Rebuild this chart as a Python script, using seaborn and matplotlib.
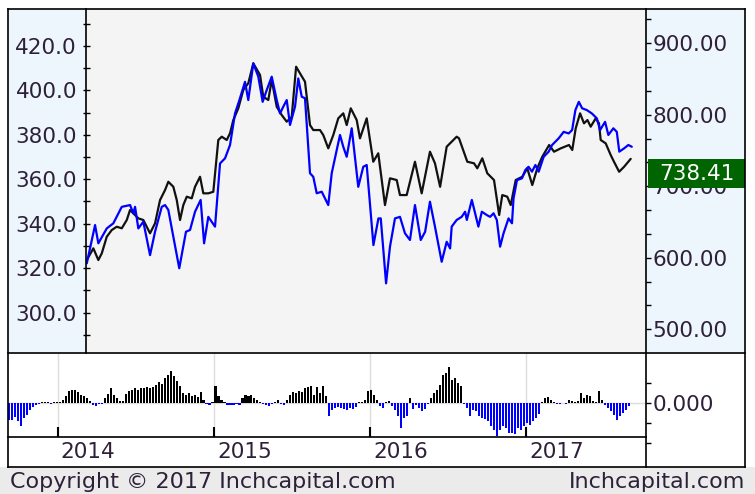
import numpy as np
import seaborn as sns
import matplotlib.pyplot as plt
import matplotlib.transforms as mtransforms
from matplotlib.patches import Rectangle
from matplotlib.ticker import MultipleLocator, FixedLocator, FixedFormatter, FormatStrFormatter

# =========================
#        DATA
# =========================
# weekly close (right axis) - time in decimal years
black_t = [2014.186, 2014.228, 2014.260, 2014.282, 2014.314, 2014.346, 2014.378, 2014.410, 2014.442, 2014.463,
           2014.484, 2014.516, 2014.548, 2014.591, 2014.623, 2014.655, 2014.687, 2014.708, 2014.740, 2014.762,
           2014.783, 2014.804, 2014.826, 2014.858, 2014.879, 2014.911, 2014.932, 2014.964, 2014.996, 2015.028,
           2015.050, 2015.082, 2015.103, 2015.124, 2015.156, 2015.188, 2015.220, 2015.252, 2015.295, 2015.316,
           2015.348, 2015.370, 2015.402, 2015.434, 2015.466, 2015.498, 2015.526, 2015.551, 2015.583, 2015.615,
           2015.636, 2015.679, 2015.700, 2015.732, 2015.764, 2015.796, 2015.828, 2015.850, 2015.876, 2015.914,
           2015.935, 2015.978, 2016.020, 2016.052, 2016.095, 2016.127, 2016.170, 2016.191, 2016.234, 2016.287,
           2016.330, 2016.383, 2016.415, 2016.448, 2016.490, 2016.554, 2016.569, 2016.622, 2016.665, 2016.686,
           2016.718, 2016.750, 2016.793, 2016.826, 2016.846, 2016.878, 2016.900, 2016.932, 2016.974, 2017.006,
           2017.038, 2017.070, 2017.102, 2017.146, 2017.177, 2017.220, 2017.273, 2017.294, 2017.316, 2017.344,
           2017.369, 2017.391, 2017.412, 2017.444, 2017.465, 2017.476, 2017.508, 2017.540, 2017.561, 2017.594,
           2017.626, 2017.668]
black_v = [596.9, 613.3, 596.9, 606.3, 629.5, 638.9, 643.5, 641.3, 652.9, 666.9,
           662.2, 655.2, 652.9, 634.3, 648.3, 680.8, 694.8, 706.4, 699.4, 680.8,
           652.9, 673.8, 685.5, 683.2, 699.4, 713.4, 690.2, 690.2, 692.4, 764.8,
           769.4, 764.8, 774.1, 792.7, 809.1, 834.7, 844.1, 872.0, 855.7, 825.3,
           820.7, 848.7, 811.3, 799.7, 790.4, 797.3, 867.3, 858.0, 846.3, 785.7,
           778.7, 778.7, 771.7, 753.1, 771.7, 795.1, 802.1, 785.7, 809.1, 792.7,
           767.1, 795.1, 734.4, 746.2, 673.8, 711.2, 708.8, 687.8, 687.8, 734.4,
           690.2, 748.4, 732.2, 699.4, 755.4, 769.4, 767.1, 734.4, 732.2, 725.2,
           739.2, 718.2, 708.8, 659.9, 687.8, 685.5, 673.8, 708.8, 713.4, 725.2,
           701.8, 725.2, 741.4, 757.8, 748.4, 753.1, 757.8, 750.8, 781.1, 802.1,
           788.1, 792.7, 783.4, 795.1, 788.1, 764.8, 760.1, 743.8, 734.4, 720.4,
           727.4, 738.41]

# comparison index (left axis)
blue_t = [2014.186, 2014.239, 2014.260, 2014.314, 2014.356, 2014.410, 2014.463, 2014.484, 2014.495, 2014.516,
          2014.548, 2014.591, 2014.623, 2014.666, 2014.687, 2014.708, 2014.740, 2014.778, 2014.821, 2014.847,
          2014.879, 2014.915, 2014.937, 2014.964, 2015.007, 2015.039, 2015.071, 2015.103, 2015.135, 2015.163,
          2015.199, 2015.220, 2015.252, 2015.284, 2015.312, 2015.338, 2015.370, 2015.402, 2015.423, 2015.444,
          2015.466, 2015.487, 2015.519, 2015.540, 2015.562, 2015.583, 2015.615, 2015.636, 2015.658, 2015.690,
          2015.732, 2015.754, 2015.786, 2015.807, 2015.828, 2015.850, 2015.882, 2015.924, 2015.956, 2015.978,
          2016.021, 2016.053, 2016.068, 2016.102, 2016.127, 2016.159, 2016.191, 2016.223, 2016.255, 2016.287,
          2016.324, 2016.352, 2016.383, 2016.415, 2016.458, 2016.490, 2016.512, 2016.522, 2016.554, 2016.586,
          2016.608, 2016.619, 2016.651, 2016.693, 2016.715, 2016.747, 2016.768, 2016.790, 2016.811, 2016.832,
          2016.854, 2016.886, 2016.908, 2016.918, 2016.940, 2016.972, 2016.993, 2017.014, 2017.036, 2017.058,
          2017.079, 2017.111, 2017.143, 2017.165, 2017.186, 2017.207, 2017.239, 2017.271, 2017.293, 2017.314,
          2017.336, 2017.357, 2017.387, 2017.419, 2017.451, 2017.472, 2017.504, 2017.525, 2017.557, 2017.579,
          2017.595, 2017.626, 2017.653, 2017.675]
blue_v = [322.2, 339.4, 331.2, 337.9, 340.2, 347.6, 348.4, 344.7, 347.6, 337.9,
          340.9, 325.9, 336.4, 347.6, 348.4, 346.2, 334.2, 320.0, 336.4, 337.2,
          345.4, 350.7, 331.2, 343.1, 338.7, 367.1, 369.4, 375.4, 389.6, 395.6,
          403.8, 395.6, 412.1, 406.1, 394.8, 400.1, 406.1, 395.6, 389.6, 392.6,
          395.6, 384.4, 392.6, 405.3, 397.1, 396.4, 362.7, 361.1, 353.7, 354.4,
          348.4, 362.7, 373.1, 379.9, 374.6, 370.1, 382.9, 356.6, 365.6, 366.4,
          330.4, 342.4, 342.4, 313.2, 329.7, 342.4, 343.1, 335.7, 332.7, 348.4,
          332.7, 336.4, 349.9, 338.7, 322.9, 331.9, 328.9, 338.7, 341.7, 343.1,
          345.4, 341.7, 350.7, 338.7, 345.4, 343.9, 343.1, 344.7, 341.7, 329.7,
          335.7, 342.4, 340.2, 351.4, 359.6, 360.4, 364.1, 365.6, 363.4, 366.4,
          363.4, 370.1, 372.4, 375.4, 376.9, 378.4, 381.3, 380.6, 382.1, 391.1,
          394.8, 391.9, 391.1, 389.6, 387.4, 382.1, 385.8, 379.9, 382.9, 381.3,
          372.4, 373.9, 375.4, 374.6]

# weekly oscillator, first week starts at osc_start
osc_start = 2013.688
osc_vals = [-0.17, -0.17, -0.14, -0.18, -0.23, -0.15, -0.12, -0.07, -0.04, -0.02,
            -0.01, 0.01, 0.01, 0.01, -0.01, 0.01, 0.01, 0.01,
            0.03, 0.07, 0.12, 0.13, 0.13, 0.11, 0.08, 0.07, 0.05, 0.02,
            -0.02, -0.03, -0.01, -0.01, 0.05, 0.09, 0.15, 0.08, 0.05, 0.02, 0.02,
            0.09, 0.12, 0.13, 0.15, 0.13, 0.15, 0.15, 0.16, 0.15, 0.16,
            0.18, 0.21, 0.19, 0.25, 0.28, 0.32, 0.27, 0.22, 0.17, 0.10,
            0.08, 0.10, 0.07, 0.08, 0.06, 0.11, 0.03, -0.01, -0.02, 0.01,
            0.17, 0.07, 0.03, 0.01, -0.02, -0.02, -0.02, -0.01, -0.02, 0.05,
            0.08, 0.07, 0.08, 0.05, 0.03, 0.01, -0.01, -0.02, -0.03, -0.01,
            0.01, 0.03, -0.01, -0.02,
            0.03, 0.08, 0.11, 0.10, 0.12, 0.11, 0.15, 0.16, 0.17, 0.08,
            0.16, 0.10, 0.17, 0.07, -0.13, -0.07, -0.05, -0.04, -0.05, -0.06,
            -0.07, -0.05, -0.06, -0.04, 0.01, 0.01, 0.03, 0.12, 0.13, 0.08,
            0.03, -0.03, -0.05, 0.01, 0.02,
            -0.03, -0.07, -0.13, -0.25, -0.15, -0.13, 0.05, -0.06, -0.02, -0.05,
            -0.08, -0.06, -0.01, 0.05, 0.10, 0.13, 0.18, 0.28, 0.30, 0.36,
            0.23, 0.25, 0.20, 0.17, -0.01, -0.05, -0.13, -0.07, -0.08, -0.13,
            -0.15, -0.16, -0.18, -0.23, -0.27, -0.33, -0.27, -0.23, -0.25, -0.30,
            -0.30, -0.31, -0.25, -0.27, -0.23, -0.20, -0.22, -0.18, -0.15, -0.11,
            0.01, 0.05, 0.06, 0.03, 0.01, -0.005, -0.005, 0.005, -0.005, 0.03,
            0.02, 0.01, 0.02, 0.10, 0.05, 0.08, 0.07, 0.02, 0.01, 0.12,
            0.03, -0.02, -0.05, -0.08, -0.12, -0.17, -0.13, -0.10, -0.07, -0.03]

years = [2014, 2015, 2016, 2017]
last_close = 738.41

# time span shown by each panel
t_low_left, t_up_left, t_right = 2013.682, 2014.181, 2017.766

# =========================
#        LAYOUT
# =========================
W, H = 755, 494


def box(x0, y0, x1, y1):
    # pixel box (top-left origin) -> figure fraction
    return [x0 / W, 1 - y1 / H, (x1 - x0) / W, (y1 - y0) / H]


sns.set_theme(style="white")
plt.rcParams["font.family"] = ["DejaVu Sans"]
TXT = "#2e2038"
FS = 15.5
PT = 0.72  # points per pixel at dpi 100

fig = plt.figure(figsize=(W / 100, H / 100), dpi=100)
fig.patch.set_facecolor("white")

# background fills
bg = fig.add_axes([0, 0, 1, 1], zorder=0)
bg.set_xlim(0, W)
bg.set_ylim(H, 0)
bg.axis("off")
bg.add_patch(Rectangle((8, 9.5), 78, 343.5, fc="#eef6fd", ec="none"))
bg.add_patch(Rectangle((646, 9.5), 99, 343.5, fc="#eef6fd", ec="none"))
bg.add_patch(Rectangle((0, 467), W, H - 467, fc="#ebebeb", ec="none"))

# ---- upper panel: price (right) and index (left) ----
ax_r = fig.add_axes(box(86, 9.5, 646, 353), zorder=2)
ax_r.set_facecolor("#f4f4f4")
ax_l = ax_r.twinx()
ax_l.set_zorder(2.5)
ax_l.patch.set_visible(False)

sns.lineplot(x=black_t, y=black_v, ax=ax_r, color="#111111", linewidth=1.6)
sns.lineplot(x=blue_t, y=blue_v, ax=ax_l, color="#0000ff", linewidth=1.6)

ax_r.set_xlim(t_up_left, t_right)
ax_r.set_ylim(466.9, 947.3)
ax_l.set_xlim(t_up_left, t_right)
ax_l.set_ylim(281.9, 436.3)

# price axis on the right
ax_r.yaxis.tick_right()
ax_r.yaxis.set_label_position("right")
ax_r.yaxis.set_major_locator(MultipleLocator(100))
ax_r.yaxis.set_minor_locator(MultipleLocator(100 / 3))
ax_r.yaxis.set_major_formatter(FormatStrFormatter("%.2f"))
ax_r.tick_params(axis="y", which="both", left=False, labelleft=False, right=True, labelright=True,
                 direction="out", length=5 * PT, width=1, color="black",
                 labelsize=FS, labelcolor=TXT, pad=1)

# index axis on the left
ax_l.yaxis.tick_left()
ax_l.yaxis.set_label_position("left")
ax_l.yaxis.set_major_locator(MultipleLocator(20))
ax_l.yaxis.set_minor_locator(MultipleLocator(10))
ax_l.yaxis.set_major_formatter(FormatStrFormatter("%.1f"))
ax_l.tick_params(axis="y", which="both", right=False, labelright=False, left=True, labelleft=True,
                 direction="inout", length=7 * PT, width=1, color="black",
                 labelsize=FS, labelcolor=TXT, pad=4)

for a in (ax_r, ax_l):
    a.set_xticks([])
    a.set_xlabel("")
    a.set_ylabel("")
    for s in a.spines.values():
        s.set_visible(False)

# last close tag
tag_tr = mtransforms.blended_transform_factory(ax_r.transAxes, ax_r.transData)
ax_r.add_patch(Rectangle((1.0036, last_close - 41), 0.1732, 41, transform=tag_tr,
                         fc="#006400", ec="none", clip_on=False, zorder=5))
ax_r.text(1.0902, last_close - 20.5, f"{last_close:.2f}", transform=tag_tr, color="white",
          fontsize=FS, ha="center", va="center", zorder=6, clip_on=False)

# ---- lower panel: oscillator ----
osc_t = osc_start + np.arange(len(osc_vals)) * 7 / 365.25
osc = np.array(osc_vals)
sign = np.where(osc >= 0, "up", "down")

ax_low = fig.add_axes(box(8, 353, 646, 467), zorder=2)
ax_low.set_facecolor("white")
ax_low.axhline(0, color="#dcdcdc", lw=1, zorder=0)
for yr in years:
    ax_low.axvline(yr, color="#dcdcdc", lw=1, zorder=0)
sns.barplot(x=osc_t, y=osc, hue=sign, palette={"up": "black", "down": "#0000ff"},
            native_scale=True, width=0.7, dodge=False, legend=False, errorbar=None,
            saturation=1, linewidth=0, ax=ax_low)
ax_low.set_xlim(t_low_left, t_right)
ax_low.set_ylim(-0.64, 0.50)
ax_low.yaxis.tick_right()
ax_low.yaxis.set_major_locator(FixedLocator([-0.4, -0.2, 0.0, 0.2]))
ax_low.yaxis.set_major_formatter(FixedFormatter(["", "", "0.000", ""]))
ax_low.tick_params(axis="y", direction="out", length=5 * PT, width=1, color="black",
                   labelsize=FS, labelcolor=TXT, pad=1)
ax_low.tick_params(axis="x", bottom=False, labelbottom=False)
ax_low.set_xlabel("")
ax_low.set_ylabel("")
for s in ax_low.spines.values():
    s.set_visible(False)

# date strip under the oscillator
strip = fig.add_axes(box(8, 437, 646, 467), zorder=3)
strip.set_facecolor("white")
strip.set_xlim(t_low_left, t_right)
strip.set_ylim(0, 1)
strip.set_xticks(years)
strip.set_yticks([])
strip.tick_params(axis="x", top=True, bottom=False, labelbottom=False, direction="out",
                  length=10 * PT, width=1.5, color="black")
for s in strip.spines.values():
    s.set_visible(False)
lab_tr = mtransforms.offset_copy(strip.get_xaxis_transform(), fig=fig, x=3, y=0, units="dots")
for yr in years:
    strip.text(yr, 0.29, str(yr), transform=lab_tr, ha="left", va="baseline",
               fontsize=FS, color=TXT)

# frame lines on top
top = fig.add_axes([0, 0, 1, 1], zorder=10)
top.set_xlim(0, W)
top.set_ylim(H, 0)
top.axis("off")
frame = [((8, 9.5), (745, 9.5)), ((8, 353), (745, 353)), ((8, 437), (646, 437)),
         ((8, 467), (745, 467)), ((8, 9.5), (8, 467)), ((745, 9.5), (745, 467)),
         ((646, 9.5), (646, 467)), ((86, 9.5), (86, 353))]
for (x0, y0), (x1, y1) in frame:
    top.plot([x0, x1], [y0, y1], color="black", lw=1.2, solid_capstyle="projecting")

# footer
fig.text(10 / W, 1 - 488 / H, "Copyright \u00a9 2017 Inchcapital.com", fontsize=16,
         color=TXT, ha="left", va="baseline")
fig.text(745 / W, 1 - 488 / H, "Inchcapital.com", fontsize=16, color=TXT,
         ha="right", va="baseline")

fig.savefig("out.png", dpi=100)
